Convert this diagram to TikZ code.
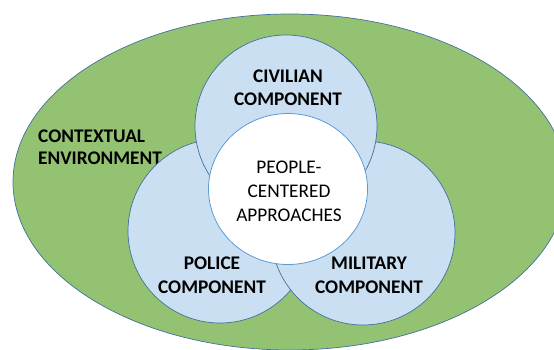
\documentclass[tikz,border=0pt]{standalone}
\usepackage{fontspec}
\setmainfont{Carlito}
\definecolor{envgreen}{HTML}{94C273}
\definecolor{compblue}{HTML}{CADFF2}
\definecolor{edgeblue}{HTML}{41719C}
\definecolor{coreedge}{HTML}{5B9BD5}

\begin{document}
\begin{tikzpicture}[x=1pt,y=-1pt,
		comp/.style={fill=compblue,draw=edgeblue,line width=0.7pt},
		lbl/.style={font=\fontsize{19.3}{24}\selectfont\bfseries,align=center,inner sep=0pt},
		corelbl/.style={font=\fontsize{19.3}{24}\selectfont,align=center,inner sep=0pt}]
		
		\useasboundingbox (0,0) rectangle (554,349);
		\clip (0,0) rectangle (554,349);
		
		% Environment (green)
		\draw[fill=envgreen, draw=edgeblue, line width=0.7pt] (290,182) ellipse (277pt and 168pt);
		\node[lbl, align=left, anchor=west, font=\fontsize{19.3}{21.7}\selectfont\bfseries] (env) at (38,147) {CONTEXTUAL\\ENVIRONMENT}; % Label for environment
		
		% Police component
		\draw[comp] (220,231) circle (92pt);
		\node[lbl] (police) at (212,275) {POLICE\\COMPONENT}; % Label for police
		
		% Military component
		\draw[comp] (363,233) circle (92pt);
		\node[lbl] (military) at (369,275) {MILITARY\\COMPONENT}; % Label for military
		
		% Civilian component
		\draw[comp] (286,126) circle (91pt);
		\node[lbl, font=\fontsize{19.3}{23.3}\selectfont\bfseries] (civilian) at (288,88) {CIVILIAN\\COMPONENT}; % Label for civilian
		
		% People-centered core
		\draw[fill=white, draw=coreedge, line width=0.8pt] (288,189) ellipse (79.5pt and 75.5pt);
		\node[corelbl] (core) at (289,191) {PEOPLE-\\CENTERED\\APPROACHES}; % Label for core
	\end{tikzpicture}
\end{document}
